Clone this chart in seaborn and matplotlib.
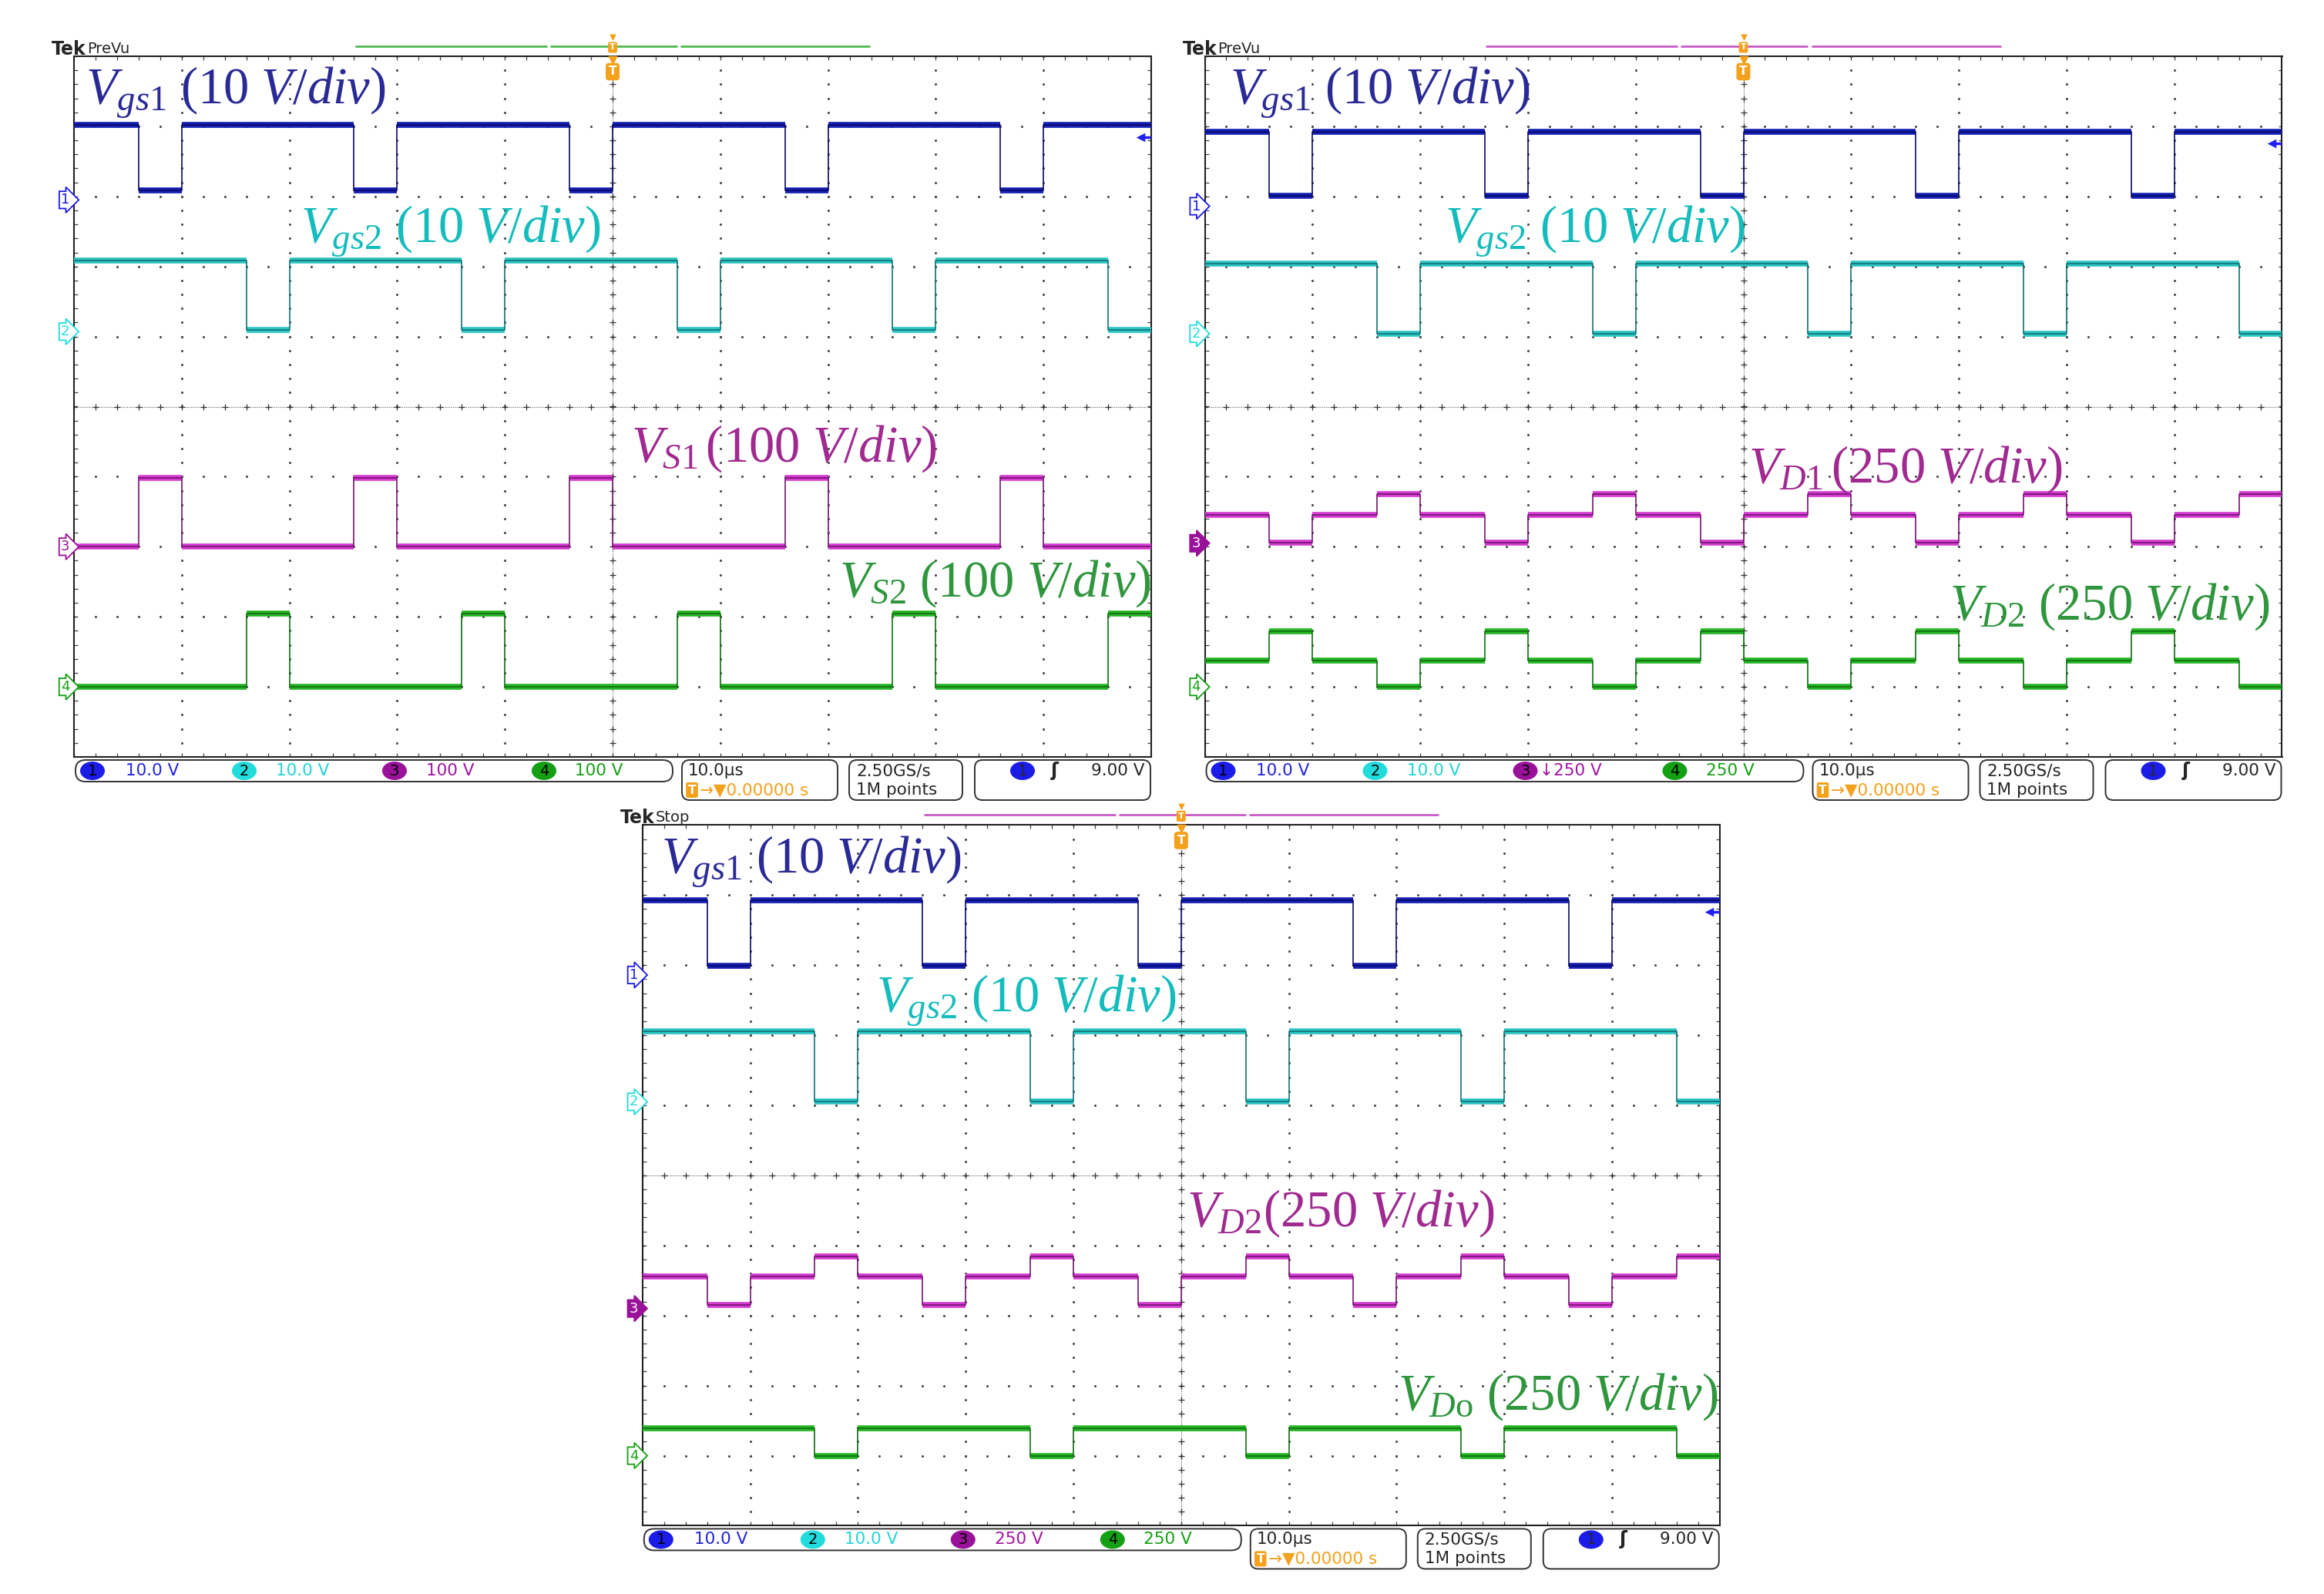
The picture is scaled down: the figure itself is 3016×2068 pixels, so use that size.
"""
Three Tek oscilloscope captures (gate drives, switch and diode voltages)
redrawn with seaborn / matplotlib.
"""
import numpy as np
import pandas as pd
import seaborn as sns
import matplotlib.pyplot as plt
import matplotlib.transforms as mtransforms
from matplotlib.patches import FancyBboxPatch, Ellipse

# ---- timing (10 us/div, trigger at 0) ----
T_EDGES = [-50, -44, -40, -34, -30, -24, -20, -14, -10, -4, 0,
           6, 10, 16, 20, 26, 30, 36, 40, 46, 50]
# state of each interval: 0 = both switches on, 1 = S1 off, 2 = S2 off
STATES = [0, 1, 0, 2, 0, 1, 0, 2, 0, 1, 0, 2, 0, 1, 0, 2, 0, 1, 0, 2]

# ---- panel (a): Vgs1, Vgs2, VS1, VS2 ----  levels in volts per state
P1_VGS1 = [10.7, 1.4, 10.7]
P1_VGS2 = [10.2, 10.2, 0.3]
P1_VS1 = [0, 98, 0]
P1_VS2 = [0, 0, 105]
P1_OFFSETS = [2.95, 1.07, -2.0, -4.0]      # ground marker, div
P1_SCALES = [10, 10, 100, 100]             # V/div
P1_STATUS = ["10.0 V", "10.0 V", "100 V", "100 V"]

# ---- panel (b): Vgs1, Vgs2, VD1, VD2 ----
P2_VGS1 = [10.6, 1.5, 10.6]
P2_VGS2 = [10.0, 10.0, 0.0]
P2_VD1 = [102, 2, 175]
P2_VD2 = [95, 197, 0]
P2_OFFSETS = [2.86, 1.04, -1.95, -4.0]
P2_SCALES = [10, 10, 250, 250]
P2_STATUS = ["10.0 V", "10.0 V", "\u2193250 V", "250 V"]

# ---- panel (c): Vgs1, Vgs2, VD2, VDo ----
P3_VGS1 = [10.7, 1.3, 10.7]
P3_VGS2 = [10.1, 10.1, 0.0]
P3_VD2 = [115, 12, 185]
P3_VDO = [97, 97, 0]
P3_OFFSETS = [2.86, 1.05, -1.9, -4.0]
P3_SCALES = [10, 10, 250, 250]
P3_STATUS = ["10.0 V", "10.0 V", "250 V", "250 V"]

P1_LABELS = [r"$V_{gs1}\ (10\ V/div)$", r"$V_{gs2}\ (10\ V/div)$",
             r"$V_{S1}\,(100\ V/div)$", r"$V_{S2}\ (100\ V/div)$"]
P2_LABELS = [r"$V_{gs1}\ (10\ V/div)$", r"$V_{gs2}\ (10\ V/div)$",
             r"$V_{D1}\,(250\ V/div)$", r"$V_{D2}\ (250\ V/div)$"]
P3_LABELS = [r"$V_{gs1}\ (10\ V/div)$", r"$V_{gs2}\ (10\ V/div)$",
             r"$V_{D2}(250\ V/div)$", r"$V_{D\mathrm{o}}\ (250\ V/div)$"]
# label anchor (us, div)
P1_LABEL_XY = [(-48.9, 4.32), (-29.0, 2.34), (1.7, -0.78), (21.0, -2.71)]
P2_LABEL_XY = [(-47.7, 4.32), (-27.7, 2.34), (0.5, -1.08), (19.1, -3.04)]
P3_LABEL_XY = [(-48.3, 4.32), (-28.3, 2.33), (0.5, -0.72), (20.1, -3.34)]

TRIG_LEVEL = 9.0  # V on ch1

TRACE_CORE = ["#1420b0", "#2cc4c4", "#d43cd0", "#26b426"]
TRACE_DARK = ["#0a0a6a", "#137272", "#741470", "#117011"]
LABEL_COLORS = ["#2a2a96", "#15bcbc", "#a02a90", "#2f963e"]
CIRC_COLORS = ["#1c1ce8", "#22dcdc", "#9a129a", "#14a014"]
STATUS_TXT = ["#2222e0", "#22d4d4", "#a014a0", "#14a014"]
ORANGE = "#f4a11c"

FIG_W, FIG_H = 3016, 2068
PANEL_W, PANEL_H = 1398, 909


def draw_graticule(ax):
    minor_t = np.arange(-50, 50.01, 2)
    minor_v = np.arange(-5, 5.01, 0.2)
    for xm in range(-40, 41, 10):
        if xm != 0:
            ax.scatter(np.full(len(minor_v), xm), minor_v, s=5, color="#4a4a4a", lw=0, zorder=1)
    for ym in range(-4, 5):
        if ym != 0:
            ax.scatter(minor_t, np.full(len(minor_t), ym), s=5, color="#4a4a4a", lw=0, zorder=1)
    ax.axhline(0, color="#666666", lw=0.8, ls=(0, (1, 1.2)), zorder=1)
    ax.axvline(0, color="#666666", lw=0.8, ls=(0, (1, 1.2)), zorder=1)
    ax.scatter(minor_t, np.zeros(len(minor_t)), marker="+", s=40, color="#333333", lw=0.9, zorder=1)
    ax.scatter(np.zeros(len(minor_v)), minor_v, marker="+", s=40, color="#333333", lw=0.9, zorder=1)
    for yy in (-5, 5):
        ax.scatter(minor_t, np.full(len(minor_t), yy), marker="|", s=55, color="#444444", lw=0.9, zorder=1)
    for xx in (-50, 50):
        ax.scatter(np.full(len(minor_v), xx), minor_v, marker="_", s=55, color="#444444", lw=0.9, zorder=1)


def draw_trace(ax, levels, offset, scale, core, dark):
    lv = np.asarray(levels, dtype=float)[STATES] / scale + offset
    ax.hlines(lv, T_EDGES[:-1], T_EDGES[1:], colors=core, lw=5.5, zorder=3)
    df = pd.DataFrame({"t": T_EDGES, "v": np.append(lv, lv[-1])})
    sns.lineplot(data=df, x="t", y="v", drawstyle="steps-post", estimator=None,
                 sort=False, color=dark, lw=1.2, ax=ax, zorder=4)


def draw_panel(fig, ov, x0, y0, mode, traces, offsets, scales, labels, label_xy,
               status, bar_color, selected):
    ax = fig.add_axes([x0 / FIG_W, 1 - (y0 + PANEL_H) / FIG_H, PANEL_W / FIG_W, PANEL_H / FIG_H])
    ax.set_xlim(-50, 50)
    ax.set_ylim(-5, 5)
    draw_graticule(ax)
    for i in range(4):
        draw_trace(ax, traces[i], offsets[i], scales[i], TRACE_CORE[i], TRACE_DARK[i])
        ax.text(label_xy[i][0], label_xy[i][1], labels[i], color=LABEL_COLORS[i],
                fontsize=48, ha="left", va="baseline", zorder=6)
    ax.set_xlabel("")
    ax.set_ylabel("")
    ax.set_xticks([])
    ax.set_yticks([])
    for sp in ax.spines.values():
        sp.set_color("#222222")
        sp.set_linewidth(1.5)

    # channel ground markers
    bl = mtransforms.blended_transform_factory(ax.transAxes, ax.transData)
    for i in range(4):
        fc = CIRC_COLORS[i] if selected == i else "white"
        tc = "white" if selected == i else CIRC_COLORS[i]
        ax.text(-0.004, offsets[i], str(i + 1), transform=bl, ha="right", va="center",
                fontsize=13, color=tc, clip_on=False, zorder=7,
                bbox=dict(boxstyle="rarrow,pad=0.12", fc=fc, ec=CIRC_COLORS[i], lw=1.3))
    # trigger level arrow
    ty = offsets[0] + TRIG_LEVEL / scales[0]
    ax.plot([49.0, 49.9], [ty, ty], color="#2020f0", lw=2.5, zorder=7)
    ax.scatter([49.0], [ty], marker="<", s=70, color="#2020f0", lw=0, zorder=7)

    # record bar and trigger position
    bt = mtransforms.blended_transform_factory(ax.transData, ax.transAxes)
    yb = 1 + 13 / PANEL_H
    for a, b in [(-23.9, -6.1), (-5.8, 6.0), (6.3, 23.9)]:
        ax.plot([a, b], [yb, yb], color=bar_color, lw=1.8, transform=bt, clip_on=False,
                solid_capstyle="butt")
    ax.text(0, 1.0127, "T", transform=bt, ha="center", va="center", color="white",
            fontsize=8, fontweight="bold", zorder=8, clip_on=False,
            bbox=dict(boxstyle="round,pad=0.12", fc=ORANGE, ec=ORANGE))
    ax.scatter([0], [1.027], marker="v", s=22, color=ORANGE, transform=bt, clip_on=False, zorder=8)
    ax.scatter([0], [0.995], marker="v", s=55, color=ORANGE, transform=bt, clip_on=False, zorder=8)
    ax.text(0, 0.978, "T", transform=bt, ha="center", va="center", color="white",
            fontsize=11, fontweight="bold", zorder=8,
            bbox=dict(boxstyle="round,pad=0.2", fc=ORANGE, ec=ORANGE))

    # header
    ov.text(x0 - 29, y0 - 2, "Tek", fontsize=17, fontweight="bold", ha="left", va="baseline")
    ov.text(x0 + 17, y0 - 4, mode, fontsize=14, ha="left", va="baseline")

    # status bar
    yb = y0 + PANEL_H
    ov.add_patch(FancyBboxPatch((x0 + 2, yb + 4), 775, 28,
                                boxstyle="round,pad=0,rounding_size=13",
                                fc="white", ec="#333333", lw=1.4))
    for a, b in [(789, 991), (1006, 1153), (1169, 1397)]:
        ov.add_patch(FancyBboxPatch((x0 + a, yb + 4), b - a, 52,
                                    boxstyle="round,pad=0,rounding_size=10",
                                    fc="white", ec="#333333", lw=1.4))
    circ_x = [24, 221, 416, 610]
    txt_x = [67, 262, 457, 650]
    for i in range(4):
        ov.add_patch(Ellipse((x0 + circ_x[i], yb + 18), 32, 24, fc=CIRC_COLORS[i], ec="none"))
        ov.text(x0 + circ_x[i], yb + 18, str(i + 1), ha="center", va="center",
                fontsize=14, color="black")
        ov.text(x0 + txt_x[i] - (22 if status[i].startswith("\u2193") else 0), yb + 18,
                status[i], ha="left", va="center", fontsize=15.5, color=STATUS_TXT[i])
    ov.text(x0 + 797, yb + 18, "10.0\u00b5s", ha="left", va="center", fontsize=15.5)
    ov.text(x0 + 802, yb + 43, "T", ha="center", va="center", fontsize=11, color="white",
            fontweight="bold", bbox=dict(boxstyle="round,pad=0.12", fc=ORANGE, ec=ORANGE))
    ov.text(x0 + 812, yb + 43, "\u2192\u25bc0.00000 s", ha="left", va="center",
            fontsize=15.5, color=ORANGE)
    ov.text(x0 + 1015, yb + 18, "2.50GS/s", ha="left", va="center", fontsize=15.5)
    ov.text(x0 + 1015, yb + 43, "1M points", ha="left", va="center", fontsize=15.5)
    ov.add_patch(Ellipse((x0 + 1231, yb + 18), 32, 24, fc=CIRC_COLORS[0], ec="none"))
    ov.text(x0 + 1231, yb + 18, "1", ha="center", va="center", fontsize=14)
    ov.text(x0 + 1273, yb + 18, "\u0283", ha="center", va="center", fontsize=17, fontweight="bold")
    ov.text(x0 + 1390, yb + 18, "9.00 V", ha="right", va="center", fontsize=15.5)
    return ax


def main():
    sns.set_style("white")
    plt.rcParams["font.family"] = ["DejaVu Sans"]
    plt.rcParams["mathtext.fontset"] = "custom"
    plt.rcParams["mathtext.rm"] = "Liberation Serif"
    plt.rcParams["mathtext.it"] = "Liberation Serif:italic"
    plt.rcParams["mathtext.bf"] = "Liberation Serif:bold"

    fig = plt.figure(figsize=(FIG_W / 100, FIG_H / 100), dpi=100)
    fig.patch.set_facecolor("white")
    ov = fig.add_axes([0, 0, 1, 1], zorder=10)
    ov.set_xlim(0, FIG_W)
    ov.set_ylim(FIG_H, 0)
    ov.axis("off")

    draw_panel(fig, ov, 96, 73, "PreVu", [P1_VGS1, P1_VGS2, P1_VS1, P1_VS2],
               P1_OFFSETS, P1_SCALES, P1_LABELS, P1_LABEL_XY, P1_STATUS, "#3cb43c", None)
    draw_panel(fig, ov, 1563.5, 73, "PreVu", [P2_VGS1, P2_VGS2, P2_VD1, P2_VD2],
               P2_OFFSETS, P2_SCALES, P2_LABELS, P2_LABEL_XY, P2_STATUS, "#c449c4", 2)
    draw_panel(fig, ov, 833.8, 1070.4, "Stop", [P3_VGS1, P3_VGS2, P3_VD2, P3_VDO],
               P3_OFFSETS, P3_SCALES, P3_LABELS, P3_LABEL_XY, P3_STATUS, "#c449c4", 2)

    fig.savefig("out.png", dpi=100, facecolor="white")
    plt.close(fig)


if __name__ == "__main__":
    main()
